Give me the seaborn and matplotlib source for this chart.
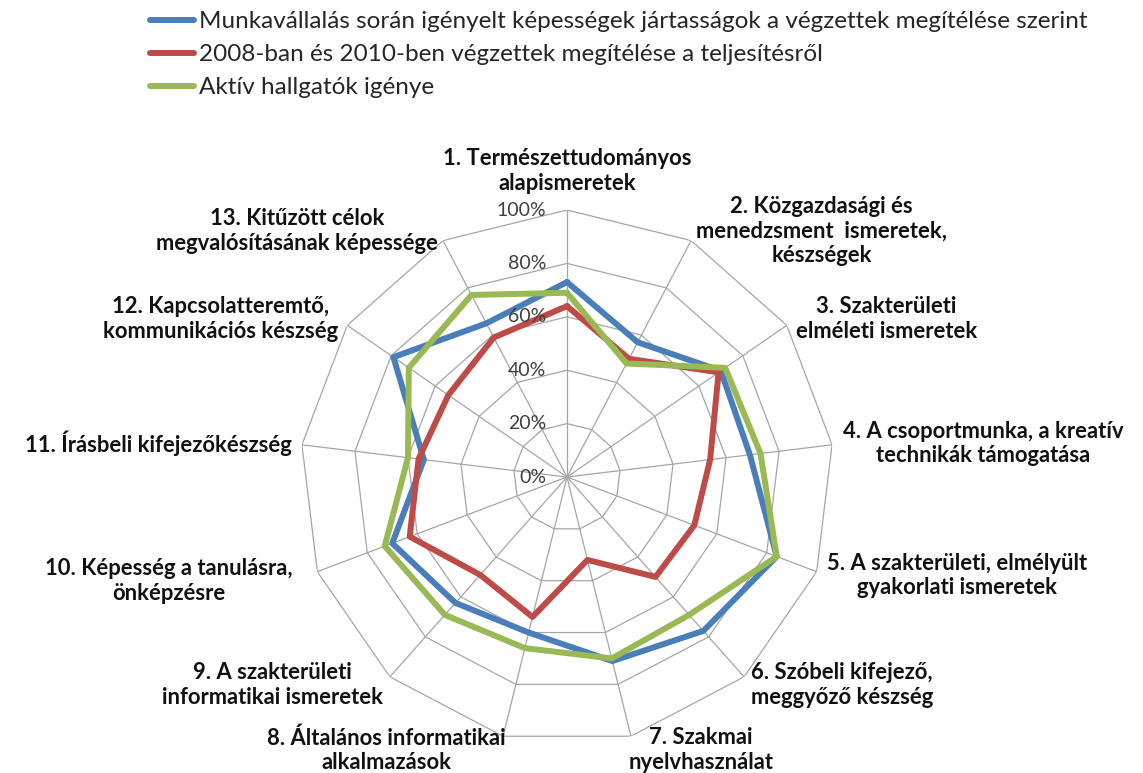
import numpy as np
import pandas as pd
import matplotlib
matplotlib.use("Agg")
import matplotlib.pyplot as plt
import seaborn as sns
from matplotlib.transforms import offset_copy

sns.set_theme(style="white")
plt.rcParams["font.family"] = ["Lato", "DejaVu Sans"]

# Data (%)
categories = [
    "1. Természettudományos\nalapismeretek",
    "2. Közgazdasági és\nmenedzsment  ismeretek,\nkészségek",
    "3. Szakterületi\nelméleti ismeretek",
    "4. A csoportmunka, a kreatív\ntechnikák támogatása",
    "5. A szakterületi, elmélyült\ngyakorlati ismeretek",
    "6. Szóbeli kifejező,\nmeggyőző készség",
    "7. Szakmai\nnyelvhasználat",
    "8. Általános informatikai\nalkalmazások",
    "9. A szakterületi\ninformatikai ismeretek",
    "10. Képesség a tanulásra,\nönképzésre",
    "11. Írásbeli kifejezőkészség",
    "12. Kapcsolatteremtő,\nkommunikációs készség",
    "13. Kitűzött célok\nmegvalósításának képessége",
]
series_names = [
    "Munkavállalás során igényelt képességek jártasságok a végzettek megítélése szerint",
    "2008-ban és 2010-ben végzettek megítélése a teljesítésről",
    "Aktív hallgatók igénye",
]
munkavallalas = [73, 57, 70, 69, 84, 77, 71, 60, 63, 70, 54, 79, 65]
vegzettek = [64, 50, 69, 54, 51, 50, 32, 54, 49, 63, 56, 54, 59]
hallgatok = [69, 48, 72, 73, 84, 69, 70, 66, 69, 73, 60, 72, 77]
tick_values = [0, 20, 40, 60, 80, 100]
tick_labels = ["0%", "20%", "40%", "60%", "80%", "100%"]

colors = ["#4A7EBB", "#BE4B48", "#98B954"]
grid_color = "#A6A6A6"

n = len(categories)
angles = np.linspace(0, 2 * np.pi, n, endpoint=False)

# long table, loops closed by repeating the first point
rows = []
for name, vals in zip(series_names, [munkavallalas, vegzettek, hallgatok]):
    for i in range(n + 1):
        rows.append({"series": name, "theta": angles[i % n] + (2 * np.pi if i == n else 0),
                     "value": vals[i % n]})
df = pd.DataFrame(rows)

fig = plt.figure(figsize=(11.43, 7.73), dpi=100)
W, H = 1143, 773
cx, cy, R = 567, 477, 267
ax = fig.add_axes([(cx - R) / W, 1 - (cy + R) / H, 2 * R / W, 2 * R / H], projection="polar")
ax.set_theta_zero_location("N")
ax.set_theta_direction(-1)
ax.set_ylim(0, 100)
ax.grid(False)
ax.spines["polar"].set_visible(False)
ax.set_xticks([])
ax.set_yticks([])
ax.patch.set_alpha(0)

# polygon gridlines + spokes
ring_theta = np.append(angles, angles[0])
for v in tick_values[1:]:
    ax.plot(ring_theta, [v] * (n + 1), color=grid_color, lw=0.9, zorder=1)
for a in angles:
    ax.plot([a, a], [0, 100], color=grid_color, lw=0.9, zorder=1)

sns.lineplot(data=df, x="theta", y="value", hue="series", hue_order=series_names,
             palette=colors, sort=False, estimator=None, units="series",
             linewidth=4.3, ax=ax, legend=False, zorder=3)
ax.set_xlabel("")
ax.set_ylabel("")

# radial tick labels along first axis
tr = offset_copy(ax.transData, fig=fig, x=-21, y=0, units="dots")
for v, lab in zip(tick_values, tick_labels):
    ax.text(0, v, lab, transform=tr, ha="right", va="center", fontsize=14,
            color="#404040", zorder=4)

# category labels
for i, (a, lab) in enumerate(zip(angles, categories)):
    s = np.sin(a)
    r = 104
    if i == 0:
        ha, va, r = "center", "bottom", 106
    elif i in (6, 7):
        ha = "left" if s > 0 else "right"
        va, r = "top", 96.5
    else:
        ha = "left" if s > 0 else "right"
        va = "center"
    if i == 9:
        r = 110
    ax.text(a, r, lab, ha=ha, va=va, multialignment="center", fontsize=15.8,
            fontweight="bold", color="#111111", linespacing=1.22)

handles = [plt.Line2D([], [], color=col, lw=4.3) for col in colors]
fig.legend(handles, series_names, loc="upper left", bbox_to_anchor=(150 / W, 1 - 11 / H),
           frameon=False, fontsize=17.5, handlelength=1.8, handletextpad=0.2,
           borderpad=0, borderaxespad=0, labelspacing=0.5)

fig.savefig("out.png", dpi=100)
